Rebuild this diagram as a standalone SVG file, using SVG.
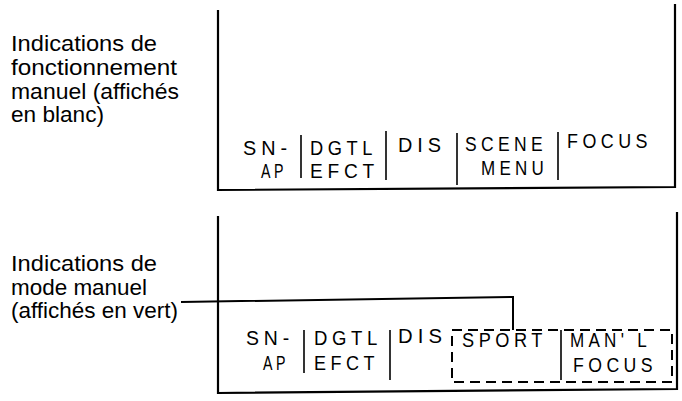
<svg xmlns="http://www.w3.org/2000/svg" width="682" height="401" viewBox="0 0 682 401">
<style>
.lbl{font-family:"Liberation Sans",Arial,sans-serif;font-size:22px;fill:#000}
.disp{font-family:"Liberation Sans",Arial,sans-serif;font-size:20px;letter-spacing:5px;fill:#000}
.frame{fill:none;stroke:#000;stroke-width:2.2}
.sep{stroke:#000;stroke-width:1.6}
.conn{fill:none;stroke:#000;stroke-width:2}
.dash{fill:none;stroke:#000;stroke-width:2;stroke-dasharray:10 6}
</style>
<rect width="682" height="401" fill="#fff"/>
<g id="label-top">
<text class="lbl" x="11" y="51" textLength="146" lengthAdjust="spacingAndGlyphs">Indications de</text>
<text class="lbl" x="11" y="75" textLength="166" lengthAdjust="spacingAndGlyphs">fonctionnement</text>
<text class="lbl" x="11" y="99" textLength="168" lengthAdjust="spacingAndGlyphs">manuel (affichés</text>
<text class="lbl" x="11" y="122" textLength="93" lengthAdjust="spacingAndGlyphs">en blanc)</text>
</g>
<g id="label-bottom">
<text class="lbl" x="11" y="271" textLength="146" lengthAdjust="spacingAndGlyphs">Indications de</text>
<text class="lbl" x="11" y="295" textLength="136" lengthAdjust="spacingAndGlyphs">mode manuel</text>
<text class="lbl" x="11" y="318" textLength="167" lengthAdjust="spacingAndGlyphs">(affichés en vert)</text>
</g>
<g id="display-top">
<polyline class="frame" points="218,10 218,190 675,187 675,4"/>
<line class="sep" x1="301" y1="135" x2="301" y2="178"/>
<line class="sep" x1="386" y1="131" x2="386" y2="180"/>
<line class="sep" x1="457" y1="133" x2="457" y2="185"/>
<line class="sep" x1="558" y1="132" x2="558" y2="180"/>
<text class="disp" x="243" y="155" textLength="49" lengthAdjust="spacingAndGlyphs">SN-</text>
<text class="disp" x="261" y="178" textLength="26" lengthAdjust="spacingAndGlyphs">AP</text>
<text class="disp" x="310" y="155" textLength="67" lengthAdjust="spacingAndGlyphs">DGTL</text>
<text class="disp" x="310" y="178" textLength="69" lengthAdjust="spacingAndGlyphs">EFCT</text>
<text class="disp" x="398" y="152" textLength="48" lengthAdjust="spacingAndGlyphs">DIS</text>
<text class="disp" x="465" y="151" textLength="82" lengthAdjust="spacingAndGlyphs">SCENE</text>
<text class="disp" x="481" y="175" textLength="67" lengthAdjust="spacingAndGlyphs">MENU</text>
<text class="disp" x="567" y="148" textLength="85" lengthAdjust="spacingAndGlyphs">FOCUS</text>
</g>
<g id="display-bottom">
<polyline class="frame" points="218,216 218,393 677,389 677,212"/>
<line class="sep" x1="304" y1="330" x2="304" y2="373"/>
<line class="sep" x1="390" y1="330" x2="390" y2="380"/>
<text class="disp" x="246" y="345" textLength="48" lengthAdjust="spacingAndGlyphs">SN-</text>
<text class="disp" x="263" y="370" textLength="26" lengthAdjust="spacingAndGlyphs">AP</text>
<text class="disp" x="314" y="345" textLength="68" lengthAdjust="spacingAndGlyphs">DGTL</text>
<text class="disp" x="314" y="370" textLength="65" lengthAdjust="spacingAndGlyphs">EFCT</text>
<text class="disp" x="398" y="343" textLength="49" lengthAdjust="spacingAndGlyphs">DIS</text>
</g>
<g id="manual-mode-group">
<rect class="dash" x="452" y="330" width="220" height="52"/>
<line class="sep" x1="561" y1="330" x2="561" y2="380"/>
<text class="disp" x="462" y="347" textLength="85" lengthAdjust="spacingAndGlyphs">SPORT</text>
<text class="disp" x="570" y="347" textLength="81" lengthAdjust="spacingAndGlyphs">MAN' L</text>
<text class="disp" x="573" y="372" textLength="84" lengthAdjust="spacingAndGlyphs">FOCUS</text>
</g>
<g id="connectors">
<polyline class="conn" points="181,302 513,297 513,330"/>
</g>
</svg>
